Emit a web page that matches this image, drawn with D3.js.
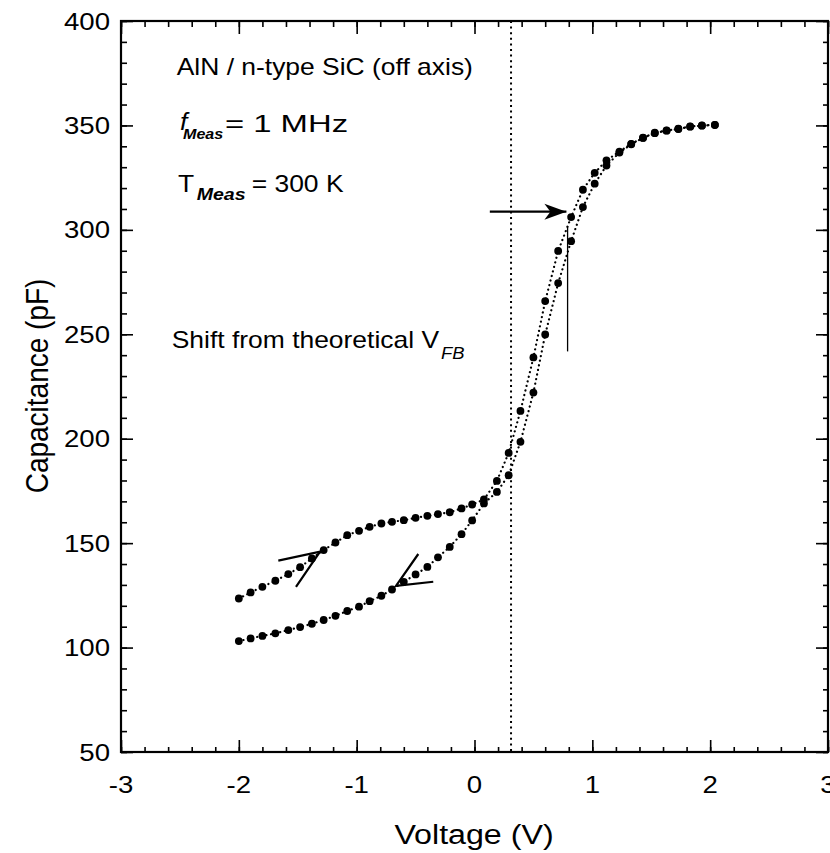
<!DOCTYPE html>
<html>
<head>
<meta charset="utf-8">
<script src="https://cdnjs.cloudflare.com/ajax/libs/d3/7.8.5/d3.min.js"></script>
<style>
  body { margin: 0; background: #fff; }
  text { font-family: "Liberation Sans", Arial, Helvetica, sans-serif; fill: #000; }
</style>
</head>
<body>
<svg id="chart"></svg>
<script>
// sweep voltages (V)
const volts = [-2.00,-1.90,-1.80,-1.69,-1.58,-1.48,-1.38,-1.28,-1.18,-1.08,
  -0.98,-0.89,-0.79,-0.70,-0.60,-0.50,-0.40,-0.31,-0.21,-0.11,
  -0.02,0.08,0.19,0.29,0.39,0.50,0.60,0.71,0.82,0.92,
  1.02,1.12,1.23,1.33,1.43,1.53,1.63,1.73,1.83,1.93,2.04];

// capacitance (pF), forward sweep (upper branch) and reverse sweep (lower branch)
const capForward = [123.5,126.4,129.1,132.0,135.2,138.5,142.7,146.7,150.3,153.8,
  155.9,157.8,159.4,160.2,161.0,162.1,163.1,163.9,164.8,166.6,
  168.5,170.9,179.8,193.2,213.3,238.9,265.9,289.9,306.1,319.2,
  327.3,333.3,337.5,341.2,344.1,346.5,347.6,348.4,349.5,350.0,350.3];
const capReverse = [103.1,104.4,105.6,106.8,108.4,109.8,111.4,113.2,115.2,117.5,
  119.6,122.2,124.8,127.8,131.5,135.0,138.6,143.2,148.2,154.3,
  160.9,169.0,174.5,182.5,198.5,222.1,249.9,274.5,294.6,310.9,
  322.1,330.8,337.0,341.0,344.0,346.3,347.5,348.3,349.4,349.9,350.2];

const xTicks = [-3, -2, -1, 0, 1, 2, 3];
const yTicks = [50, 100, 150, 200, 250, 300, 350, 400];

// theoretical flat-band voltage and annotation geometry (data units)
const vfbTheory = 0.31;
const shiftArrow = [[0.13, 308.7], [0.78, 308.7]];
const shiftBar = [[0.79, 301.8], [0.79, 241.8]];
const fwdArrow = [[-1.665, 141.6], [-1.311, 145.9], [-1.515, 129.1]];
const revArrow = [[-0.477, 144.8], [-0.666, 129.5], [-0.35, 131.5]];

const width = 830, height = 853;
const plotL = 121, plotR = 828, plotT = 21, plotB = 752;
const SX = 1.15; // the scan's lettering is a bit wide

const svg = d3.select('#chart').attr('width', width).attr('height', height);

const x = d3.scaleLinear().domain([-3, 3]).range([plotL, plotR]);
const y = d3.scaleLinear().domain([50, 400]).range([plotB, plotT]);

function put(px, py, str, size, opts = {}) {
  const t = svg.append('text')
    .attr('transform', `translate(${px},${py}) scale(${SX},1)` + (opts.rotate ? ' rotate(-90)' : ''))
    .attr('font-size', size)
    .text(str);
  if (opts.anchor) t.attr('text-anchor', opts.anchor);
  if (opts.style) t.attr('font-style', opts.style);
  if (opts.weight) t.attr('font-weight', opts.weight);
  if (opts.len) t.attr('textLength', opts.len).attr('lengthAdjust', 'spacingAndGlyphs');
  return t;
}

// ticks, all pointing inward
function ticks(axis, tr, values, size) {
  const g = svg.append('g').attr('transform', tr)
    .call(axis.tickValues(values).tickSize(-size).tickFormat(''));
  g.select('.domain').remove();
  g.selectAll('line').attr('stroke', '#000').attr('stroke-width', 1.6);
}
ticks(d3.axisBottom(x), `translate(0,${plotB})`, x.ticks(30), 5);
ticks(d3.axisBottom(x), `translate(0,${plotB})`, xTicks, 12);
ticks(d3.axisTop(x), `translate(0,${plotT})`, x.ticks(30), 6);
ticks(d3.axisTop(x), `translate(0,${plotT})`, xTicks, 13);
ticks(d3.axisLeft(y), `translate(${plotL},0)`, y.ticks(35), 6);
ticks(d3.axisLeft(y), `translate(${plotL},0)`, yTicks, 12);
ticks(d3.axisRight(y), `translate(${plotR},0)`, y.ticks(35), 5);
ticks(d3.axisRight(y), `translate(${plotR},0)`, yTicks, 12);

svg.append('rect')
  .attr('x', plotL).attr('y', plotT)
  .attr('width', plotR - plotL).attr('height', plotB - plotT)
  .attr('fill', 'none').attr('stroke', '#000').attr('stroke-width', 2.2);

// tick labels
xTicks.forEach(d => put(x(d), 793, d < 0 ? '-' + Math.abs(d) : String(d), 24, { anchor: 'middle' }));
yTicks.forEach(d => put(110, y(d) + 8.5, String(d), 24, { anchor: 'end' }));

// axis titles
put(474, 844, 'Voltage (V)', 28, { anchor: 'middle' });
put(48, 386, 'Capacitance (pF)', 28, { anchor: 'middle', rotate: true });

// theoretical flat band
svg.append('line')
  .attr('x1', x(vfbTheory)).attr('x2', x(vfbTheory))
  .attr('y1', y(400)).attr('y2', y(50))
  .attr('stroke', '#000').attr('stroke-width', 2).attr('stroke-dasharray', '2,3.6');

// the two sweeps
const line = d3.line().x((d, i) => x(volts[i])).y(d => y(d));
[capForward, capReverse].forEach(series => {
  svg.append('path')
    .datum(series)
    .attr('d', line)
    .attr('fill', 'none').attr('stroke', '#000').attr('stroke-width', 2.2)
    .attr('stroke-linecap', 'round').attr('stroke-dasharray', '0.1,4.6');
  svg.append('g').selectAll('circle')
    .data(series)
    .enter().append('circle')
      .attr('cx', (d, i) => x(volts[i]))
      .attr('cy', d => y(d))
      .attr('r', 3.9)
      .attr('fill', '#000');
});

// sweep direction arrows
const pts = d3.line().x(d => x(d[0])).y(d => y(d[1]));
[fwdArrow, revArrow].forEach(a => {
  svg.append('path').attr('d', pts(a))
    .attr('fill', 'none').attr('stroke', '#000').attr('stroke-width', 2.2)
    .attr('stroke-linejoin', 'miter');
});

// shift arrow
svg.append('path').attr('d', pts(shiftArrow))
  .attr('stroke', '#000').attr('stroke-width', 2.2);
const tipX = x(shiftArrow[1][0]), tipY = y(shiftArrow[1][1]);
svg.append('path')
  .attr('d', `M${tipX},${tipY} L${tipX - 22},${tipY - 8} L${tipX - 16},${tipY} L${tipX - 22},${tipY + 8} Z`)
  .attr('fill', '#000');
svg.append('path').attr('d', pts(shiftBar))
  .attr('stroke', '#000').attr('stroke-width', 1.3);

// annotations
put(176.7, 74.5, 'AlN / n-type SiC (off axis)', 23);
put(180, 130, 'f', 23, { style: 'italic' });
put(183, 138.5, 'Meas', 14, { style: 'italic', weight: 'bold' });
put(225, 131.7, '= 1 MHz', 23, { len: 107 });
put(178, 191.7, 'T', 23);
put(196.7, 200, 'Meas', 17, { style: 'italic', weight: 'bold' });
put(251.7, 191.7, '= 300 K', 23);
put(171.7, 348.3, 'Shift from theoretical V', 23);
put(441, 359, 'FB', 16, { style: 'italic' });
</script>
</body>
</html>
